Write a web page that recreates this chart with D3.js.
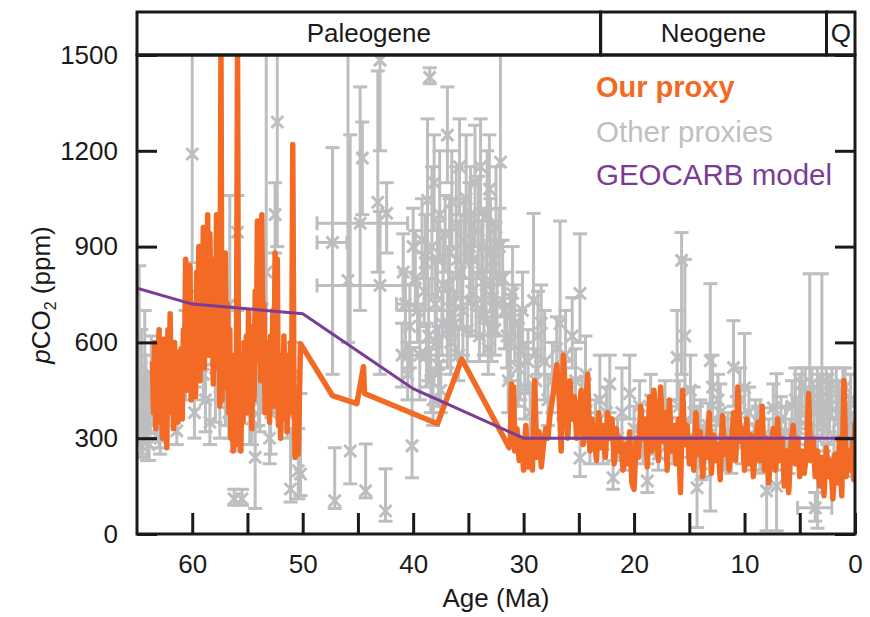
<!DOCTYPE html>
<html><head><meta charset="utf-8">
<script src="https://cdn.jsdelivr.net/npm/d3@7"></script>
<style>body{margin:0;background:#fff;} svg{display:block;font-family:"Liberation Sans",Arial,Helvetica,sans-serif;}</style>
</head><body><svg id="c" width="870" height="617"></svg>
<script>
// ---------- data ----------
const xTickValues = [60,55,50,45,40,35,30,25,20,15,10,5,0];
const yTickValues = [0,300,600,900,1200,1500];
const eraNames = ["Paleogene","Neogene","Q"];
const eraStart = [65,23.03,2.58];
const eraEnd = [23.03,2.58,0];
const legendLabels = ["Our proxy","Other proxies","GEOCARB model"];

// GEOCARB model [age Ma, pCO2 ppm]
const geocarb = [[65,770],[60,720],[50,690],[40,455],[30,300],[0,300]];

// Our proxy [age Ma, pCO2 ppm]
const ourProxyEarly = [
[63.6,540],[63.5,380],[63.4,600],[63.3,330],[63.2,560],[63.1,480],[63.0,640],[62.9,350],[62.8,520],[62.7,300],
[62.6,610],[62.5,420],[62.4,560],[62.3,270],[62.2,640],[62.1,380],[62.0,690],[61.9,430],[61.8,520],[61.7,330],
[61.6,600],[61.5,390],[61.4,570],[61.3,350],[61.2,500],[61.1,420],[61.0,580],[60.9,360],[60.8,640],[60.7,520],
[60.6,860],[60.5,450],[60.4,780],[60.3,500],[60.2,840],[60.1,420],[60.0,720],[59.9,560],[59.8,680],[59.7,430],
[59.6,820],[59.5,600],[59.4,900],[59.3,480],[59.2,760],[59.1,620],[59.0,960],[58.9,520],[58.8,880],[58.7,700],
[58.6,1000],[58.5,560],[58.4,940],[58.3,640],[58.2,780],[58.1,470],[58.0,860],[57.9,580],[57.8,1000],[57.7,520],
[57.6,680],[57.5,400],[57.4,1520],[57.3,420],[57.2,760],[57.1,540],[57.0,880],[56.9,460],[56.8,720],[56.7,380],
[56.6,640],[56.5,300],[56.4,560],[56.3,260],[56.2,480],[56.1,280],[56.0,480],[55.9,1520],[55.8,300],[55.7,560],
[55.6,260],[55.5,480],[55.4,350],[55.3,600],[55.2,420],[55.1,620],[55.0,380],[54.9,700],[54.8,450],[54.7,560],
[54.6,330],[54.5,650],[54.4,420],[54.3,760],[54.2,540],[54.1,980],[54.0,600],[53.9,820],[53.8,480],[53.7,1000],
[53.6,560],[53.5,720],[53.4,380],[53.3,600],[53.2,420],[53.1,540],[53.0,350],[52.9,620],[52.8,460],[52.7,700],
[52.6,400],[52.5,880],[52.4,520],[52.3,860],[52.2,340],[52.1,560],[52.0,300],[51.9,480],[51.8,360],[51.7,620],
[51.6,420],[51.5,560],[51.4,320],[51.3,500],[51.2,380],[51.1,600],[51.0,400],[50.9,1220],[50.8,500],[50.7,240],
[50.6,450],[50.5,300],[50.4,250]
];
const ourProxyMid = [[50.2,596],[47.3,433],[45.1,408],[44.5,524],[44.4,440],[37.8,345],[35.6,548]];
const ourProxyLate = [
[31.3,270],[31.2,300],[31.1,470],[31.0,280],[30.9,460],[30.8,260],[30.6,330],[30.4,230],[30.2,300],[30.0,200],
[29.8,340],[29.6,210],[29.4,290],[29.2,200],[29.0,480],[28.8,240],[28.6,320],[28.4,210],[28.2,280],[28.0,330],
[27.8,300],[27.6,380],[27.4,420],[27.2,470],[27.0,530],[26.8,440],[26.6,260],[26.4,560],[26.2,420],[26.0,300],
[25.8,480],[25.6,360],[25.4,430],[25.2,300],[25.0,340],[24.8,450],[24.6,280],[24.4,380],[24.2,500],[24.0,260],
[23.8,360],[23.6,300],[23.4,230],[23.2,380],[23.0,270],[22.8,340],[22.6,240],[22.4,380],[22.2,300],[22.0,360],
[21.8,220],[21.6,330],[21.4,260],[21.2,300],[21.0,200],[20.8,280],[20.6,220],[20.4,320],[20.2,160],[20.0,140],
[19.8,300],[19.6,240],[19.4,400],[19.2,300],[19.0,360],[18.8,210],[18.6,430],[18.4,260],[18.2,450],[18.0,330],
[17.8,230],[17.6,460],[17.4,290],[17.2,380],[17.0,200],[16.8,420],[16.6,260],[16.4,340],[16.2,220],[16.0,360],
[15.8,130],[15.6,450],[15.4,280],[15.2,340],[15.0,220],[14.8,300],[14.6,200],[14.4,380],[14.2,250],[14.0,320],
[13.8,180],[13.6,300],[13.4,240],[13.2,380],[13.0,190],[12.8,310],[12.6,230],[12.4,280],[12.2,170],[12.0,370],
[11.8,250],[11.6,300],[11.4,200],[11.2,270],[11.0,380],[10.8,230],[10.6,460],[10.4,290],[10.2,330],[10.0,200],
[9.8,360],[9.6,220],[9.4,310],[9.2,180],[9.0,280],[8.8,350],[8.6,230],[8.4,400],[8.2,200],[8.0,300],
[7.8,160],[7.6,270],[7.4,330],[7.2,200],[7.0,360],[6.8,230],[6.6,300],[6.4,150],[6.2,260],[6.0,130],
[5.8,280],[5.6,340],[5.4,220],[5.2,300],[5.0,180],[4.8,260],[4.6,190],[4.4,250],[4.2,440],[4.0,230],
[3.8,300],[3.6,180],[3.4,260],[3.2,150],[3.0,240],[2.8,120],[2.6,270],[2.4,180],[2.2,230],[2.0,110],
[1.8,250],[1.6,160],[1.4,300],[1.2,120],[1.0,480],[0.8,180],[0.6,260],[0.4,200],[0.2,290],[0.1,170],[0.0,350]
];

// Other proxies [age, pCO2, low, high, ageOld, ageYoung]
const otherProxies = [
[64.8,480,330,840],[64.7,380,250,560],[64.4,350,280,480],[64.3,440,300,700],[64.1,330,230,420],
[63.8,400,320,500],[63.3,360,300,430],[62.9,300,250,360],[61.4,323,280,380],[60.6,560,420,700],
[64.9,420,300,560],[64.6,520,420,640],[64.5,300,240,380],[64.2,460,380,560],[64.0,380,300,470],
[63.9,280,230,340],[63.7,500,400,620],[63.5,420,340,500],[63.0,330,270,400],[62.7,380,300,460],
[60.0,1190,850,1600],[59.3,600,480,760],[58.8,420,320,530],[57.9,520,350,650],[57.5,460,300,620],
[56.7,380,300,460],[56.6,720,500,1060],[56.2,110,90,140],[55.9,945,700,1060],[55.5,110,90,140],
[54.8,400,280,520],[54.3,240,80,335],[54.0,460,340,600],[53.7,560,380,720],[53.3,820,560,1600],
[52.9,380,250,500],[52.5,1000,880,1100],[52.3,1290,900,1600],[51.6,420,330,520],[51.1,141,100,320],
[59.8,380,300,460],[59.0,500,420,580],[58.4,350,280,420],[57.0,420,340,500],[56.0,330,260,400],
[55.2,500,400,600],[54.6,360,280,440],[53.9,420,320,520],[53.0,300,220,380],[52.0,460,380,540],
[51.4,380,300,460],[50.8,500,420,600],
[50.4,198,110,330],[50.2,188,120,440],
[47.3,913,500,1210,48.7,46.0],[47.1,104,80,270],[45.9,794,600,1600],[45.7,260,157,1250],
[44.8,973,700,1400,48.7,40.5],[44.6,1177,1000,1290],[44.3,135,113,282],[43.2,1039,820,1450],
[43.0,1484,1200,1600],[43.0,778,500,1010,48.7,40.9],[42.5,72,40,204],[42.4,1004,880,1100],
[40.7,720,560,820,41.5,39.0],[40.3,650,520,780],[40.1,276,176,584],[39.8,800,700,950],
[39.4,560,420,700,40.9,36.0],[38.9,850,700,1000],[38.7,1045,800,1300],[38.6,620,480,800],
[38.5,1430,1410,1460],[38.3,900,750,1150],[38.0,720,600,860],[37.7,530,400,650],[37.6,1000,850,1200],
[37.3,780,620,950],[36.9,640,520,760],[36.9,1249,1100,1400],[36.7,880,720,1050],[36.4,720,620,820],
[36.1,960,800,1150],[35.7,820,650,1000],[35.5,700,560,850],[35.2,1050,850,1250],[34.9,900,720,1100],
[34.7,760,620,900],[34.4,1100,900,1280],[34.1,950,800,1120],[33.8,820,680,980],[33.6,680,560,800],
[33.3,1000,820,1200],[33.0,880,700,1050],[32.8,740,620,880],[32.5,960,800,1150],[32.1,1164,900,1600],
[38.4,480,380,580],[38.2,420,340,520],[37.9,600,500,700],[37.5,450,380,540],[36.6,600,500,700],
[35.9,560,480,640],[34.0,620,540,700],[33.2,580,500,680],[32.6,640,560,720],
[41.0,560,460,660],[40.9,820,700,940],[40.5,500,420,600],[40.0,900,780,1020],[39.6,700,600,800],
[39.2,920,800,1050],[39.0,760,650,880],[38.8,560,460,660],[38.1,1100,950,1250],[37.8,860,740,980],
[37.4,660,560,760],[37.1,940,820,1060],[36.8,780,660,900],[36.5,1040,900,1200],[36.2,660,560,760],
[36.0,860,740,980],[35.8,1150,1000,1300],[35.4,920,800,1050],[35.1,640,540,740],[34.8,1000,860,1150],
[34.6,860,740,980],[34.3,720,620,820],[33.9,1150,1000,1300],[33.7,900,780,1020],[33.4,780,660,900],
[33.1,1080,920,1250],[32.9,640,540,740],[32.7,860,740,980],[32.4,720,620,820],[32.2,900,780,1020],
[31.9,800,680,920],[31.5,620,520,720],
[31.7,700,580,820],[31.2,600,480,750],[31.0,753,620,900],[30.5,520,400,660],[30.3,574,420,700],
[29.9,460,360,600],[29.1,731,560,1004],[28.7,620,500,760],[28.1,540,420,700],[27.4,480,380,600],
[26.7,659,500,980],[26.2,560,440,700],[25.6,620,520,740],[24.9,753,600,940],[24.4,500,400,620],
[31.4,480,380,580],[30.8,660,540,780],[30.1,700,580,820],[29.6,540,440,640],[29.4,380,300,460],
[28.9,480,380,580],[28.4,660,540,780],[27.8,420,340,500],[27.0,580,480,680],[26.4,450,360,540],
[25.9,380,300,460],[25.3,480,380,580],[24.7,400,320,480],
[24.9,238,180,300],[24.0,300,220,380],[23.1,420,340,560],[22.2,470,380,560],[21.9,176,140,230],
[21.1,380,300,520],[20.4,440,360,560],[19.5,400,330,480],[18.8,166,130,220],[18.1,330,250,420],
[23.5,350,280,420],[22.8,280,220,340],[22.5,380,300,460],[21.5,300,240,360],[20.8,250,200,300],
[20.0,330,260,400],[19.2,280,220,340],[18.5,420,340,500],[17.8,250,200,300],[16.8,350,280,420],
[16.5,280,220,340],[15.9,400,320,480],[15.1,300,240,360],[14.6,380,300,460],[13.9,220,170,270],
[13.3,340,270,410],[12.6,300,240,360],[12.4,420,340,500],[11.5,320,260,380],[11.2,240,190,290],
[10.7,360,290,430],[10.2,280,220,340],[9.6,380,300,460],[9.3,250,200,300],[8.8,330,260,400],
[8.3,240,190,290],[7.8,300,240,360],[7.0,260,200,320],[6.7,360,290,430],[6.0,240,190,290],
[17.2,400,320,480,18.1,15.8],[16.1,553,420,700],[15.7,857,500,944],[15.4,620,450,860],[14.9,450,350,560],
[14.3,145,20,400],[14.0,330,240,420],[13.6,250,180,320],[13.1,543,72,784],[12.9,460,360,560],
[12.2,380,300,470],[11.8,280,200,360],[11.0,521,400,668],[10.4,420,340,520],[10.0,458,380,628],
[9.0,330,260,420],[8.6,280,200,360],[8.0,135,10,270],[7.4,395,320,470,8.6,6.2],[7.1,150,10,502],
[6.3,320,250,400],[5.9,280,220,360],[5.4,420,300,520],[5.0,360,280,500],[4.5,450,330,520],
[4.1,400,300,815],[3.6,82,40,130,5.2,2.1],[3.4,300,18,520],[3.0,450,300,815],[2.5,380,280,500],
[2.1,470,360,520],[1.5,350,250,480],[1.1,420,300,520],[0.6,300,200,400],[0.3,250,180,380],
[5.7,400,320,480],[5.2,330,260,400],[4.8,470,380,520],[4.3,360,280,440],[3.9,470,400,520],
[3.7,380,300,460],[3.2,420,340,500],[2.8,340,260,420],[2.6,480,400,520],[2.3,400,320,480],
[1.9,300,240,360],[1.7,440,360,520],[1.3,380,300,460],[0.9,460,380,520],[0.8,320,260,380],
[0.4,420,340,500],[0.1,300,240,360]
];

// ---------- drawing ----------
const ORANGE = "#f26a24", GRAY = "#bdbec0", PURPLE = "#7b3c97", BLACK = "#1a1a1a";
const svg = d3.select("#c");
const x = d3.scaleLinear().domain([65,0]).range([137,855]);
const y = d3.scaleLinear().domain([0,1500]).range([534,55]);

svg.append("defs").append("clipPath").attr("id","clip")
  .append("rect").attr("x",x(65)).attr("y",y(1500)).attr("width",x(0)-x(65)).attr("height",y(0)-y(1500));

const plot = svg.append("g").attr("clip-path","url(#clip)");

// Other proxies
const gp = plot.append("g").attr("stroke",GRAY).attr("stroke-width",3).attr("fill","none");
const cap = 7, mk = 6;
const pts = gp.selectAll("g.p").data(otherProxies).join("g").attr("class","p");
pts.append("line").attr("x1",d=>x(d[0])).attr("x2",d=>x(d[0])).attr("y1",d=>y(d[2])).attr("y2",d=>y(d[3]));
pts.append("line").attr("x1",d=>x(d[0])-cap).attr("x2",d=>x(d[0])+cap).attr("y1",d=>y(d[2])).attr("y2",d=>y(d[2]));
pts.append("line").attr("x1",d=>x(d[0])-cap).attr("x2",d=>x(d[0])+cap).attr("y1",d=>y(d[3])).attr("y2",d=>y(d[3]));
const hz = pts.filter(d=>d.length>4);
hz.append("line").attr("x1",d=>x(d[4])).attr("x2",d=>x(d[5])).attr("y1",d=>y(d[1])).attr("y2",d=>y(d[1]));
hz.append("line").attr("x1",d=>x(d[4])).attr("x2",d=>x(d[4])).attr("y1",d=>y(d[1])-cap).attr("y2",d=>y(d[1])+cap);
hz.append("line").attr("x1",d=>x(d[5])).attr("x2",d=>x(d[5])).attr("y1",d=>y(d[1])-cap).attr("y2",d=>y(d[1])+cap);
pts.append("path").attr("d",d=>{const cx=x(d[0]),cy=y(d[1]);
  return `M${cx-mk},${cy-mk}L${cx+mk},${cy+mk}M${cx-mk},${cy+mk}L${cx+mk},${cy-mk}`;});

// Our proxy
const line = d3.line().x(d=>x(d[0])).y(d=>y(d[1]));
plot.append("path").datum(ourProxyEarly.concat(ourProxyMid, ourProxyLate))
  .attr("d",line).attr("fill","none").attr("stroke",ORANGE).attr("stroke-width",5.5)
  .attr("stroke-linejoin","round");

// GEOCARB
plot.append("path").datum(geocarb).attr("d",line).attr("fill","none")
  .attr("stroke",PURPLE).attr("stroke-width",3);

// Axes
const xAxis = d3.axisBottom(x).tickValues(xTickValues).tickSizeInner(-21).tickSizeOuter(0)
  .tickPadding(21).tickFormat(d => d % 10 === 0 ? String(d) : "");
const gx = svg.append("g").attr("transform",`translate(0,${y(0)})`).call(xAxis);
const yAxisL = d3.axisLeft(y).tickValues(yTickValues).tickSizeInner(-20).tickSizeOuter(0).tickPadding(19)
  .tickFormat(d3.format("d"));
const gy = svg.append("g").attr("transform",`translate(${x(65)},0)`).call(yAxisL);
const yAxisR = d3.axisRight(y).tickValues(yTickValues).tickSizeInner(-20).tickSizeOuter(0).tickFormat("");
const gyr = svg.append("g").attr("transform",`translate(${x(0)},0)`).call(yAxisR);
[gx,gy,gyr].forEach(g=>{
  g.select(".domain").remove();
  g.selectAll(".tick line").attr("stroke",BLACK).attr("stroke-width",3);
  g.selectAll(".tick text").attr("fill",BLACK).style("font-size","26px")
   .style("font-family",'"Liberation Sans",Arial,sans-serif');
});

// Frame
svg.append("rect").attr("x",x(65)).attr("y",y(1500)).attr("width",x(0)-x(65)).attr("height",y(0)-y(1500))
  .attr("fill","none").attr("stroke",BLACK).attr("stroke-width",3);

// Era bar
const eraTop = 12;
const eras = svg.append("g");
eraNames.forEach((n,i)=>{
  eras.append("rect").attr("x",x(eraStart[i])).attr("y",eraTop).attr("width",x(eraEnd[i])-x(eraStart[i]))
    .attr("height",y(1500)-eraTop).attr("fill","none").attr("stroke",BLACK).attr("stroke-width",3);
  eras.append("text").attr("x",(x(eraStart[i])+x(eraEnd[i]))/2).attr("y",42).attr("text-anchor","middle")
    .style("font-size","26px").attr("fill",BLACK).text(n);
});

// Axis titles
svg.append("text").attr("x",(x(65)+x(0))/2).attr("y",607).attr("text-anchor","middle")
  .style("font-size","26px").attr("fill",BLACK).text("Age (Ma)");
const yt = svg.append("text").attr("transform","translate(50,295) rotate(-90)").attr("text-anchor","middle")
  .style("font-size","26px").attr("fill",BLACK);
yt.append("tspan").style("font-style","italic").text("p");
yt.append("tspan").text("CO");
yt.append("tspan").attr("dy",6).style("font-size","16px").text("2");
yt.append("tspan").attr("dy",-6).text(" (ppm)");

// Legend
const legColors = [ORANGE, "#bfc0c2", PURPLE];
const legY = [97,142,185];
legendLabels.forEach((t,i)=>{
  svg.append("text").attr("x",596).attr("y",legY[i]).attr("fill",legColors[i])
    .style("font-size", i===0 ? "29px" : "29.5px").style("font-weight", i===0 ? "bold" : "normal").text(t);
});
</script></body></html>
